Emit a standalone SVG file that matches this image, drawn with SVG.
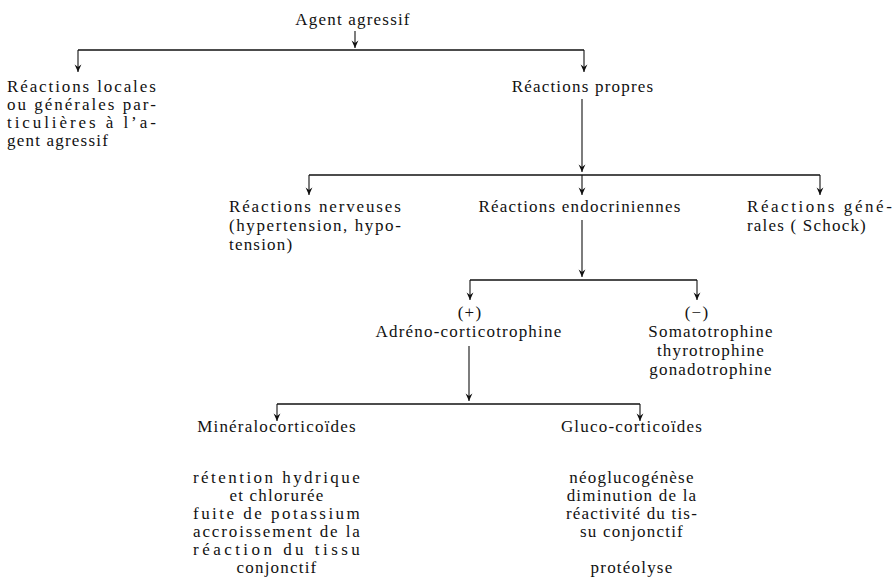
<svg xmlns="http://www.w3.org/2000/svg" width="895" height="586" viewBox="0 0 895 586">
<style>
text{font-family:"Liberation Serif","Times New Roman",serif;font-size:17px;fill:#111;letter-spacing:1.2px}
.c{text-anchor:middle}
.ln{stroke:#111;stroke-width:1.3;fill:none}
.ar{stroke:#111;stroke-width:1.1;fill:none;marker-end:url(#ah)}
</style>
<defs>
<marker id="ah" viewBox="-8 -4 9 8" markerWidth="9" markerHeight="8" refX="0" refY="0" orient="auto" markerUnits="userSpaceOnUse">
<path d="M0,0 L-7.5,-3.4 L-5,0 L-7.5,3.4 Z" fill="#111"/>
</marker>
</defs>
<rect width="895" height="586" fill="#fff"/>
<g id="connectors">
<line class="ar" x1="355" y1="31" x2="355" y2="48"/>
<line class="ln" x1="78" y1="50" x2="584" y2="50"/>
<line class="ar" x1="78" y1="50" x2="78" y2="72"/>
<line class="ar" x1="584" y1="50" x2="584" y2="72"/>
<line class="ar" x1="582" y1="99" x2="582" y2="172"/>
<line class="ln" x1="309" y1="175" x2="820" y2="175"/>
<line class="ar" x1="309" y1="175" x2="309" y2="195"/>
<line class="ar" x1="582" y1="175" x2="582" y2="195"/>
<line class="ar" x1="820" y1="175" x2="820" y2="195"/>
<line class="ar" x1="582" y1="220" x2="582" y2="277"/>
<line class="ln" x1="470" y1="280" x2="697" y2="280"/>
<line class="ar" x1="470" y1="280" x2="470" y2="300"/>
<line class="ar" x1="697" y1="280" x2="697" y2="300"/>
<line class="ar" x1="469" y1="346" x2="469" y2="401"/>
<line class="ln" x1="277" y1="404" x2="640" y2="404"/>
<line class="ar" x1="277" y1="404" x2="277" y2="421"/>
<line class="ar" x1="640" y1="404" x2="640" y2="421"/>
</g>
<g id="agent">
<text class="c" x="353" y="25">Agent agressif</text>
</g>
<g id="reactions-locales">
<text x="7" y="92" textLength="150" lengthAdjust="spacing">Réactions locales</text>
<text x="7" y="110" textLength="150" lengthAdjust="spacing">ou générales par-</text>
<text x="7" y="128" textLength="150" lengthAdjust="spacing">ticulières à l’a-</text>
<text x="7" y="146">gent agressif</text>
</g>
<g id="reactions-propres">
<text class="c" x="583" y="92">Réactions propres</text>
</g>
<g id="reactions-nerveuses">
<text x="229" y="212" textLength="173" lengthAdjust="spacing">Réactions nerveuses</text>
<text x="229" y="231" textLength="173" lengthAdjust="spacing">(hypertension, hypo-</text>
<text x="229" y="250">tension)</text>
</g>
<g id="reactions-endocriniennes">
<text class="c" x="580" y="212">Réactions endocriniennes</text>
</g>
<g id="reactions-generales">
<text x="747" y="212" textLength="146" lengthAdjust="spacing">Réactions géné-</text>
<text x="747" y="231">rales ( Schock)</text>
</g>
<g id="adreno">
<text class="c" x="470" y="318">(+)</text>
<text class="c" x="469" y="337">Adréno-corticotrophine</text>
</g>
<g id="somato">
<text class="c" x="697" y="318">(−)</text>
<text class="c" x="711" y="337">Somatotrophine</text>
<text class="c" x="711" y="356">thyrotrophine</text>
<text class="c" x="711" y="375">gonadotrophine</text>
</g>
<g id="mineralocorticoides">
<text class="c" x="277" y="432">Minéralocorticoïdes</text>
<text x="193" y="483" textLength="168" lengthAdjust="spacing">rétention hydrique</text>
<text class="c" x="277" y="501">et chlorurée</text>
<text x="193" y="519" textLength="168" lengthAdjust="spacing">fuite de potassium</text>
<text x="193" y="537" textLength="168" lengthAdjust="spacing">accroissement de la</text>
<text x="193" y="555" textLength="168" lengthAdjust="spacing">réaction du tissu</text>
<text class="c" x="277" y="573">conjonctif</text>
</g>
<g id="glucocorticoides">
<text class="c" x="632" y="432">Gluco-corticoïdes</text>
<text class="c" x="632" y="483">néoglucogénèse</text>
<text class="c" x="632" y="501">diminution de la</text>
<text class="c" x="632" y="519">réactivité du tis-</text>
<text class="c" x="632" y="537">su conjonctif</text>
<text class="c" x="632" y="573">protéolyse</text>
</g>
</svg>
